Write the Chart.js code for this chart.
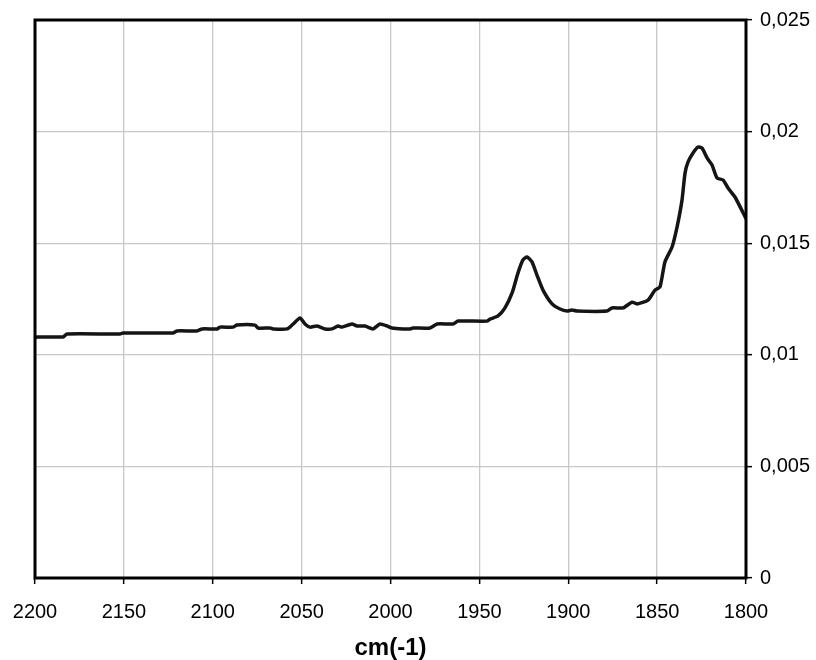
<!DOCTYPE html>
<html>
<head>
<meta charset="utf-8">
<script src="https://cdn.jsdelivr.net/npm/chart.js@4.4.1/dist/chart.umd.min.js"></script>
<style>
  html, body { margin: 0; padding: 0; background: #fff; }
  #wrap { width: 816px; height: 660px; }
</style>
</head>
<body>
<div id="wrap"><canvas id="chart" width="816" height="660"></canvas></div>
<script>
// 파수(cm-1)와 흡광도 — 그림에서 읽은 값
const wavenumbers = [
  2200, 2198.9, 2184.2, 2182, 2152.2, 2150.5, 2122.4, 2120.1, 2108.9, 2106,
  2097.6, 2095.9, 2088.6, 2086.4, 2076.2, 2074.5, 2067.8, 2066.1, 2058.2, 2054.8,
  2050.9, 2048.1, 2045.3, 2041.3, 2036.8, 2032.9, 2029.5, 2027.3, 2021.7, 2018.8,
  2014.3, 2009.8, 2005.9, 2001.9, 1999.1, 1993, 1989, 1987.3, 1977.8, 1973.8,
  1964.8, 1962, 1945.7, 1944, 1939.5, 1935.6, 1931.6, 1928.3, 1925.5, 1923.2,
  1920.4, 1917.6, 1914.2, 1909.1, 1904.6, 1900.7, 1897.9, 1895.1, 1878.2, 1875.4,
  1869.2, 1864.1, 1861.3, 1855.1, 1851.2, 1848.4, 1845.6, 1841.6, 1838.8, 1836,
  1834.3, 1832.6, 1829.8, 1827, 1824.7, 1821.9, 1819.1, 1816.3, 1812.9, 1810.1,
  1806.2, 1800
];
const absorbance = [
  0.01075, 0.01080, 0.01080, 0.01093, 0.01093, 0.01098, 0.01098, 0.01107, 0.01107, 0.01116,
  0.01116, 0.01124, 0.01124, 0.01133, 0.01133, 0.01120, 0.01120, 0.01116, 0.01116, 0.01138,
  0.01165, 0.01138, 0.01124, 0.01129, 0.01116, 0.01116, 0.01129, 0.01124, 0.01138, 0.01129,
  0.01129, 0.01116, 0.01138, 0.01129, 0.01120, 0.01116, 0.01116, 0.01120, 0.01120, 0.01138,
  0.01138, 0.01151, 0.01151, 0.01160, 0.01174, 0.01210, 0.01277, 0.01366, 0.01425, 0.01438,
  0.01416, 0.01357, 0.01290, 0.01228, 0.01205, 0.01196, 0.01201, 0.01196, 0.01196, 0.01210,
  0.01210, 0.01236, 0.01228, 0.01245, 0.01290, 0.01304, 0.01416, 0.01483, 0.01572, 0.01693,
  0.01814, 0.01864, 0.01904, 0.01931, 0.01926, 0.01882, 0.01850, 0.01792, 0.01783, 0.01747,
  0.01707, 0.01610
];

const xTicks = [2200, 2150, 2100, 2050, 2000, 1950, 1900, 1850, 1800];
const yTicks = [0, 0.005, 0.01, 0.015, 0.02, 0.025];

const FONT = "'Liberation Sans', Arial, sans-serif";

// 쉼표 소수점 표기
const comma = v => String(+v.toFixed(3)).replace(".", ",");

// 플롯 영역 테두리
const frame = {
  id: "frame",
  afterDraw(c) {
    const { ctx, chartArea: a } = c;
    ctx.save();
    ctx.strokeStyle = "#000";
    ctx.lineWidth = 3;
    ctx.strokeRect(a.left, a.top, a.right - a.left, a.bottom - a.top);
    ctx.restore();
  }
};

new Chart(document.getElementById("chart"), {
  type: "line",
  data: {
    datasets: [{
      data: wavenumbers.map((w, i) => ({ x: w, y: absorbance[i] })),
      borderColor: "#151515",
      borderWidth: 3.5,
      pointRadius: 0,
      tension: 0.2,
      fill: false
    }]
  },
  options: {
    responsive: false,
    animation: false,
    layout: { padding: { left: 0, right: 6, top: 17, bottom: 0 } },
    plugins: { legend: { display: false }, tooltip: { enabled: false } },
    scales: {
      x: {
        type: "linear", reverse: true, min: 1800, max: 2200,
        afterBuildTicks: s => { s.ticks = xTicks.map(v => ({ value: v })); },
        afterFit: s => { s.height = 82; s.paddingLeft = 35; },
        ticks: { color: "#000", font: { family: FONT, size: 20 }, padding: 16, maxRotation: 0, callback: v => String(v) },
        grid: { color: "#c8c8c8", lineWidth: 1.3, tickColor: "#000", tickLength: 6, tickWidth: 1.5 },
        border: { display: false },
        title: { display: true, text: "cm(-1)", color: "#000", font: { family: FONT, size: 24, weight: "bold", lineHeight: 1 }, padding: { top: 3, bottom: 0 } }
      },
      y: {
        position: "right", min: 0, max: 0.025,
        afterBuildTicks: s => { s.ticks = yTicks.map(v => ({ value: v })); },
        afterFit: s => { s.width = 64; },
        ticks: { color: "#000", font: { family: FONT, size: 20 }, padding: 8, callback: v => comma(v) },
        grid: { color: "#c8c8c8", lineWidth: 1.3, tickColor: "#000", tickLength: 6, tickWidth: 1.5 },
        border: { display: false }
      }
    }
  },
  plugins: [frame]
});
</script>
</body>
</html>
